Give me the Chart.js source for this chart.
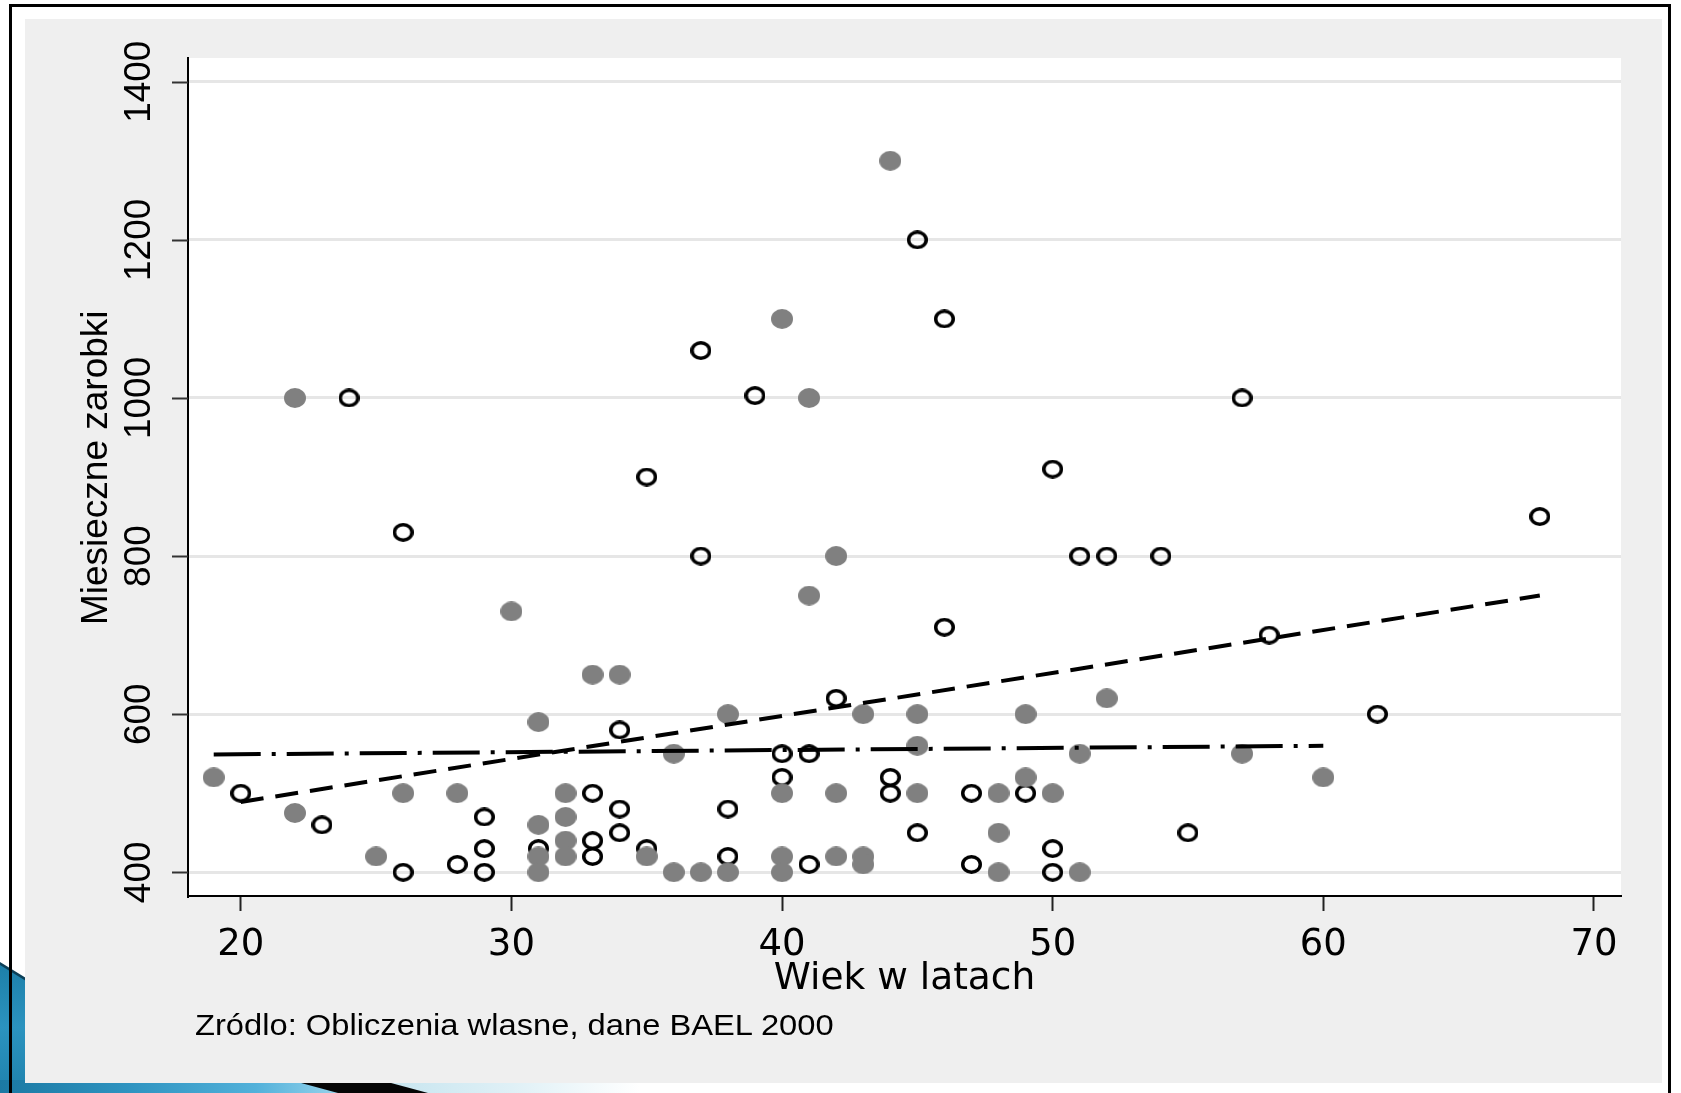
<!DOCTYPE html>
<html>
<head>
<meta charset="utf-8">
<script src="https://cdn.jsdelivr.net/npm/chart.js@4.4.1/dist/chart.umd.min.js"></script>
<style>
html, body { margin:0; padding:0; background:#fff; width:1681px; height:1093px; overflow:hidden; }
body { position:relative; }
#decoL { position:absolute; left:0; top:962px; width:30px; height:131px; z-index:1;
  background:linear-gradient(180deg,#1c7ea8 0%,#2b93bf 50%,#1f82ad 100%);
  clip-path:polygon(0 2px, 26px 18px, 26px 100%, 0 100%); }
#decoLedge { position:absolute; left:0; top:960px; width:30px; height:24px; z-index:1;
  background:#0b3f57; clip-path:polygon(0 2px, 26px 18px, 26px 21px, 0 5px); }
#decoB { position:absolute; left:0; top:1080px; width:640px; height:13px; z-index:1;
  background:linear-gradient(90deg,#1b79a3 0%,#2e93c0 20%,#52b1da 40%,#7cc6e5 48%,#c9e6f0 62%,#dff0f6 80%,#ffffff 100%); }
#wedge { position:absolute; left:290px; top:1080px; width:150px; height:13px; z-index:2;
  background:#050505; clip-path:polygon(0 0, 90px 0, 138px 100%, 48px 100%); }
#panel { position:absolute; left:25px; top:19px; width:1637px; height:1064px; background:#efefef; z-index:3; }
#c { position:absolute; left:0; top:0; z-index:4; }
#src { position:absolute; left:195px; top:1010px; z-index:5; font-family:"Liberation Sans", Arial, sans-serif;
  font-size:30px; line-height:30px; color:#000; white-space:nowrap; transform:scaleX(1.09); transform-origin:0 0; }
#frame { position:absolute; left:9px; top:4px; width:1662px; height:1100px; box-sizing:border-box;
  border:3px solid #000; border-bottom:none; z-index:6; pointer-events:none; }
</style>
</head>
<body>
<div id="decoL"></div>
<div id="decoLedge"></div>
<div id="decoB"></div>
<div id="wedge"></div>
<div id="panel"></div>
<canvas id="c" width="1681" height="1093"></canvas>
<div id="src">Zródlo: Obliczenia wlasne, dane BAEL 2000</div>
<div id="frame"></div>
<script>
// ---- data ----
const xTicks = [20, 30, 40, 50, 60, 70];
const yTicks = [400, 600, 800, 1000, 1200, 1400];

// filled grey markers
const womenAge = [19,22,22,25,26,28,30,31,31,31,31,32,32,32,32,33,34,35,36,36,37,38,38,40,40,40,40,41,41,42,42,42,43,43,43,44,45,45,45,48,48,48,49,49,50,51,51,52,57,60];
const womenPay = [520,1000,475,420,500,500,730,590,460,420,400,500,470,440,420,650,650,420,550,400,400,600,400,1100,500,420,400,1000,750,800,500,420,600,420,410,1300,600,560,500,500,450,400,600,520,500,550,400,620,550,520];

// hollow markers
const menAge = [20,23,24,26,26,28,29,29,29,31,33,33,33,34,34,34,35,35,37,37,38,38,39,40,40,41,41,42,44,44,45,45,46,46,47,47,49,50,50,50,51,52,54,55,57,58,62,68];
const menPay = [500,460,1000,830,400,410,470,430,400,430,500,440,420,580,480,450,900,430,1060,800,480,420,1003,550,520,550,410,620,520,500,1200,450,1100,710,500,410,500,910,430,400,800,800,800,450,1000,700,600,850];

// fitted lines (end points)
const menFitAge = [20, 68];
const menFitPay = [489, 750];
const womenFitAge = [19, 60];
const womenFitPay = [549, 560];

const zip = (xs, ys) => xs.map((x, i) => ({ x: x, y: ys[i] }));

function ellipseMarker(w, h, fill, stroke, lw) {
  const c = document.createElement('canvas');
  c.width = w; c.height = h;
  const g = c.getContext('2d');
  g.beginPath();
  if (stroke) {
    g.ellipse(w / 2, h / 2, w / 2 - lw / 2, h / 2 - lw / 2, 0, 0, Math.PI * 2);
    g.lineWidth = lw; g.strokeStyle = stroke; g.stroke();
  } else {
    g.ellipse(w / 2, h / 2, w / 2, h / 2, 0, 0, Math.PI * 2);
    g.fillStyle = fill; g.fill();
  }
  return c;
}
const filledMarker = ellipseMarker(22, 20, '#808080', null, 0);
const openMarker = ellipseMarker(21, 19, null, '#000', 3.5);

const plotBg = {
  id: 'plotBg',
  beforeDraw(chart) {
    const { ctx, chartArea: a } = chart;
    ctx.save();
    ctx.fillStyle = '#ffffff';
    ctx.fillRect(a.left, a.top, a.right - a.left, a.bottom - a.top);
    ctx.restore();
  }
};
const yTickMarks = {
  id: 'yTickMarks',
  afterDraw(chart) {
    const ys = chart.scales.y, ctx = chart.ctx, left = chart.chartArea.left;
    ctx.save();
    ctx.strokeStyle = '#333';
    ctx.lineWidth = 2;
    ys.ticks.forEach(t => {
      const p = Math.round(ys.getPixelForValue(t.value)) + 0.5;
      ctx.beginPath();
      ctx.moveTo(left - 16, p);
      ctx.lineTo(left, p);
      ctx.stroke();
    });
    ctx.restore();
  }
};

new Chart(document.getElementById('c').getContext('2d'), {
  type: 'scatter',
  data: {
    datasets: [
      { type: 'line', data: zip(menFitAge, menFitPay), borderColor: '#000', borderWidth: 4,
        borderDash: [23, 12], pointRadius: 0, fill: false, order: 0 },
      { type: 'line', data: zip(womenFitAge, womenFitPay), borderColor: '#000', borderWidth: 4,
        borderDash: [47, 11, 4, 11], pointRadius: 0, fill: false, order: 0 },
      { data: zip(womenAge, womenPay), pointStyle: filledMarker, pointRadius: 10, order: 1 },
      { data: zip(menAge, menPay), pointStyle: openMarker, pointRadius: 10, order: 2 }
    ]
  },
  options: {
    responsive: false,
    animation: false,
    devicePixelRatio: 1,
    layout: { padding: { left: 0, right: 60, top: 58, bottom: 87 } },
    plugins: { legend: { display: false }, tooltip: { enabled: false } },
    scales: {
      x: {
        type: 'linear', min: 18.05, max: 71,
        afterBuildTicks: s => { s.ticks = xTicks.map(v => ({ value: v })); },
        afterFit: s => { s.height = 110; },
        grid: { drawOnChartArea: false, tickLength: 15, tickColor: '#222', tickWidth: 2, color: '#222' },
        border: { display: true, color: '#000', width: 2 },
        ticks: { callback: v => String(v), font: { family: 'DejaVu Sans', size: 37 }, color: '#000',
                 padding: 12, minRotation: 0, maxRotation: 0, autoSkip: false },
        title: { display: true, text: 'Wiek w latach', font: { family: 'DejaVu Sans', size: 37.5 },
                 color: '#000', padding: { top: 0, bottom: 4 } }
      },
      y: {
        type: 'linear', min: 370, max: 1430,
        afterBuildTicks: s => { s.ticks = yTicks.map(v => ({ value: v })); },
        afterFit: s => { s.width = 188; },
        grid: { color: '#e6e6e6', lineWidth: 3, tickLength: 7, tickColor: 'rgba(0,0,0,0)' },
        border: { display: true, color: '#000', width: 2 },
        ticks: { callback: v => String(v), font: { family: 'Liberation Sans', size: 37 }, color: '#000',
                 padding: 0, minRotation: 90, maxRotation: 90, crossAlign: 'center', autoSkip: false },
        title: { display: true, text: '\u2002Miesieczne zarobki', font: { family: 'Liberation Sans', size: 37 },
                 color: '#000', padding: { top: 75, bottom: 0 } }
      }
    }
  },
  plugins: [plotBg, yTickMarks]
});
</script>
</body>
</html>
